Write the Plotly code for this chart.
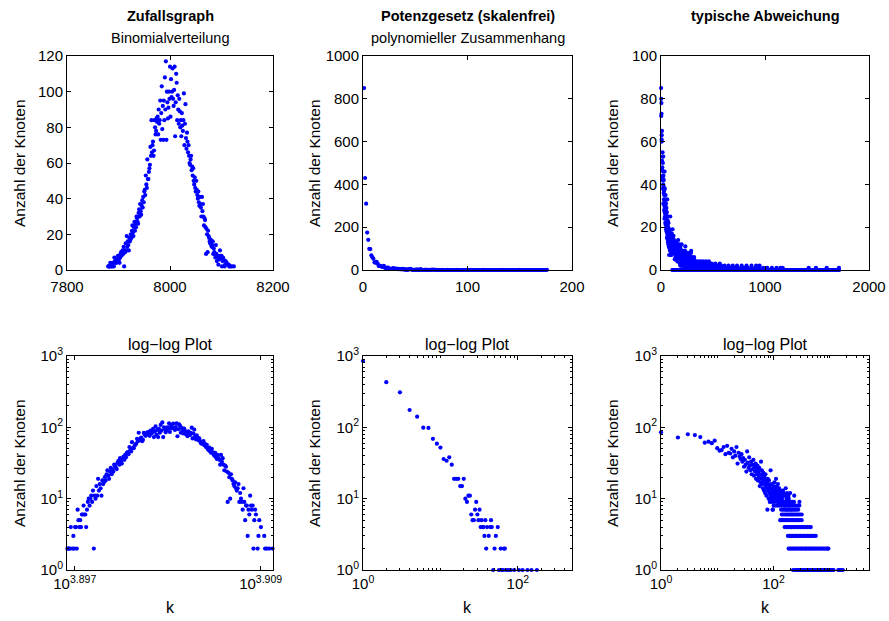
import plotly.graph_objects as go
import math

# ---------------- data ----------------
# Dataset 1: random graph (binomial degree distribution)
k1 = [7880, 7881, 7882, 7883, 7884, 7886, 7887, 7888, 7889, 7890,
      7891, 7892, 7893, 7894, 7895, 7896, 7897, 7898, 7899, 7900,
      7901, 7902, 7903, 7904, 7905, 7906, 7907, 7908, 7909, 7910,
      7911, 7912, 7913, 7914, 7915, 7916, 7917, 7918, 7919, 7920,
      7921, 7922, 7923, 7924, 7925, 7926, 7927, 7928, 7929, 7930,
      7931, 7932, 7933, 7934, 7935, 7936, 7937, 7938, 7939, 7940,
      7941, 7942, 7943, 7944, 7945, 7946, 7947, 7948, 7949, 7950,
      7951, 7952, 7953, 7954, 7955, 7956, 7957, 7958, 7959, 7960,
      7961, 7962, 7963, 7964, 7965, 7966, 7967, 7968, 7969, 7970,
      7971, 7972, 7973, 7974, 7975, 7976, 7977, 7978, 7979, 7980,
      7981, 7982, 7983, 7984, 7985, 7986, 7987, 7988, 7989, 7990,
      7991, 7992, 7993, 7994, 7995, 7996, 7997, 7998, 7999, 8000,
      8001, 8002, 8003, 8004, 8005, 8006, 8007, 8008, 8009, 8010,
      8011, 8012, 8013, 8014, 8015, 8016, 8017, 8018, 8019, 8020,
      8021, 8022, 8023, 8024, 8025, 8026, 8027, 8028, 8029, 8030,
      8031, 8032, 8033, 8034, 8035, 8036, 8037, 8038, 8039, 8040,
      8041, 8042, 8043, 8044, 8045, 8046, 8047, 8048, 8049, 8050,
      8051, 8052, 8053, 8054, 8055, 8056, 8057, 8058, 8059, 8060,
      8061, 8062, 8063, 8064, 8065, 8066, 8067, 8068, 8069, 8070,
      8071, 8072, 8073, 8074, 8075, 8076, 8077, 8078, 8079, 8080,
      8081, 8082, 8083, 8084, 8085, 8086, 8087, 8088, 8089, 8090,
      8091, 8092, 8093, 8094, 8095, 8096, 8097, 8098, 8099, 8100,
      8101, 8102, 8103, 8104, 8106, 8107, 8108, 8110, 8114, 8115,
      8117, 8120, 8124]
n1 = [2, 2, 2, 2, 4, 2, 3, 2, 4, 4,
      2, 7, 5, 4, 5, 4, 6, 6, 8, 6,
      6, 4, 7, 9, 10, 8, 10, 11, 9, 13,
      2, 11, 10, 15, 11, 19, 13, 16, 14, 11,
      18, 16, 17, 20, 18, 22, 25, 21, 19, 24,
      27, 22, 26, 24, 30, 29, 27, 26, 32, 34,
      30, 37, 33, 31, 36, 39, 35, 41, 38, 44,
      45, 42, 53, 48, 46, 62, 51, 51, 55, 57,
      59, 69, 64, 84, 66, 70, 72, 64, 67, 84,
      80, 76, 78, 85, 83, 86, 76, 90, 82, 84,
      95, 73, 88, 103, 79, 92, 73, 95, 84, 108,
      90, 117, 73, 100, 94, 85, 91, 100, 96, 114,
      86, 107, 97, 100, 113, 96, 92, 101, 114, 75,
      94, 110, 105, 84, 98, 90, 82, 96, 89, 80,
      84, 75, 88, 81, 78, 84, 99, 70, 82, 93,
      74, 68, 77, 72, 66, 70, 64, 60, 59, 62,
      64, 56, 58, 53, 57, 50, 48, 52, 46, 44,
      50, 45, 42, 40, 44, 38, 36, 41, 37, 35,
      30, 41, 33, 37, 30, 25, 29, 28, 24, 9,
      23, 20, 10, 22, 19, 18, 16, 15, 17, 14,
      13, 14, 16, 9, 12, 10, 9, 7, 14, 9,
      5, 8, 8, 3, 7, 6, 11, 8, 7, 8,
      2, 5, 7, 6, 2, 3, 5, 4, 3, 2,
      2, 2, 2]

# Dataset 2: power law (scale-free)
k2 = [1, 2, 3, 4, 5, 6, 7, 8, 9, 10,
      11, 12, 13, 14, 15, 16, 17, 18, 19, 20,
      21, 22, 23, 24, 25, 26, 27, 28, 29, 30,
      31, 32, 33, 34, 35, 36, 37, 38, 39, 40,
      42, 44, 45, 46, 48, 50, 52, 55, 57, 60,
      62, 64, 66, 68, 70, 75, 81, 90, 103, 115,
      133, 150, 176]
n2 = [850, 430, 310, 175, 141, 99, 98, 69, 59, 52,
      36, 34, 38, 30, 19, 19, 19, 15, 15, 19,
      10, 9, 11, 11, 6, 5, 5, 7, 9, 6,
      5, 7, 4, 5, 4, 4, 3, 5, 2, 4,
      3, 4, 5, 4, 1, 2, 3, 4, 1, 2,
      1, 1, 2, 2, 1, 1, 1, 1, 1, 1,
      1, 1, 1]

# Dataset 3: typical deviation
k3_cloud = [1, 2, 3, 4, 5, 6, 7, 8, 9, 10,
            11, 12, 13, 14, 15, 16, 17, 18, 19, 20,
            21, 22, 23, 24, 25, 26, 27, 28, 29, 30,
            31, 32, 33, 34, 35, 36, 37, 38, 39, 40,
            41, 42, 43, 44, 45, 46, 47, 48, 49, 50,
            51, 52, 53, 54, 55, 56, 57, 58, 59, 60,
            61, 62, 63, 64, 65, 66, 67, 68, 69, 70,
            71, 72, 73, 74, 75, 76, 77, 78, 79, 80,
            81, 82, 83, 84, 85, 86, 87, 88, 89, 90,
            91, 92, 93, 94, 95, 96, 97, 98, 99, 100,
            102, 103, 104, 105, 106, 107, 108, 109,
            111, 113, 114, 115, 116, 117, 118, 119, 120,
            124, 125, 126, 127, 128, 130,
            136, 138, 139, 142, 147, 148, 152, 154, 160, 165,
            171, 174, 185, 187, 195, 198, 234, 290]
n3_cloud = [85, 72, 80, 78, 73, 61, 63, 60, 65, 51,
            47, 48, 53, 42, 55, 44, 43, 50, 38, 46,
            40, 53, 31, 44, 39, 36, 42, 33, 37, 28,
            35, 30, 24, 46, 32, 27, 38, 29, 25, 33,
            22, 30, 26, 35, 21, 28, 24, 31, 19, 26,
            22, 29, 18, 24, 20, 27, 15, 22, 17, 33,
            19, 25, 16, 21, 14, 23, 18, 13, 20, 16,
            12, 22, 15, 18, 11, 17, 14, 7, 19, 13,
            16, 10, 18, 12, 15, 9, 14, 11, 25, 13,
            10, 16, 12, 9, 14, 11, 7, 13, 10, 15,
            12, 9, 17, 11, 14, 10, 13, 8,
            19, 12, 10, 15, 9, 13, 11, 8, 16,
            11, 9, 14, 12, 10, 13,
            11, 12, 9, 10, 13, 11, 12, 9, 11, 14,
            10, 12, 11, 10, 9, 12, 11, 9]
k3_n9 = [123, 137, 146, 158, 168, 181, 193, 207, 220, 232]
k3_n8 = [101, 129, 141, 153, 161, 173, 186, 197, 213, 229, 248, 268, 288]
k3_n7 = [97, 137, 149, 159, 169, 178, 189, 201, 211, 224, 239, 253, 275]
k3_n6 = [141, 151, 162, 172, 184, 196, 208, 218, 231, 246, 261, 277, 296, 318]
k3_n5 = [132, 140, 150, 160, 170, 182, 191, 203, 215, 228, 242, 257, 273, 291, 317]
k3_n4 = [158, 168, 179, 189, 200, 212, 224, 238, 252, 267, 283, 299, 318, 337,
         357, 380, 404, 432, 461]
k3_n3 = [181, 192, 204, 216, 229, 243, 256, 271, 286, 303, 321, 339, 360, 383,
         406, 431, 458, 487, 522, 565]
k3_n2 = [186, 197, 209, 221, 233, 247, 262, 279, 296, 313, 330, 352, 371, 392,
         415, 438, 463, 489, 517, 545, 578, 612, 650, 690, 731, 776, 822, 870,
         915, 948]
k3_n1 = [223, 241, 258, 272, 287, 301, 316, 334, 349, 366, 381, 398, 417, 433,
         452, 470, 491, 512, 534, 557, 579, 604, 628, 655, 683, 709, 738, 770,
         801, 836, 869, 905, 943, 982, 1021, 1066, 1110, 1148, 1170, 1420, 1490,
         1593, 1711]

# ---------------- build tables ----------------
def merge_bands():
    ks, ns = list(k3_cloud), list(n3_cloud)
    for val, lst in [(9, k3_n9), (8, k3_n8), (7, k3_n7), (6, k3_n6), (5, k3_n5),
                     (4, k3_n4), (3, k3_n3), (2, k3_n2), (1, k3_n1)]:
        ks += lst
        ns += [val] * len(lst)
    return ks, ns

k3, n3 = merge_bands()


def with_zeros(ks, ns):
    """Histogram over every degree 1..max (degrees nobody has count 0)."""
    present = set(ks)
    zk = [k for k in range(1, max(ks) + 1) if k not in present]
    return list(ks) + zk, list(ns) + [0] * len(zk)


k2_lin, n2_lin = with_zeros(k2, n2)
k3_lin, n3_lin = with_zeros(k3, n3)

BLUE = "#0000FF"
FONT = "Liberation Sans, Arial, Helvetica, sans-serif"
W, H = 889, 621
TICK = 15

fig = go.Figure()


def add(x, y, i):
    fig.add_trace(go.Scatter(x=x, y=y, mode="markers", cliponaxis=False,
                             marker=dict(color=BLUE, size=4.2, line=dict(width=0)),
                             xaxis="x" if i == 1 else f"x{i}",
                             yaxis="y" if i == 1 else f"y{i}",
                             showlegend=False, hoverinfo="skip"))


add(k1, n1, 1)
add(k2_lin, n2_lin, 2)
add(k3_lin, n3_lin, 3)
add(k1, n1, 4)
add(k2, n2, 5)
add(k3, n3, 6)

cols = [(67, 273), (363, 572), (661, 869)]
rows = [(56, 270), (356, 570)]


def xdom(c):
    return [cols[c][0] / W, cols[c][1] / W]


def ydom(r):
    return [1 - rows[r][1] / H, 1 - rows[r][0] / H]


base = dict(showgrid=False, zeroline=False, showline=True, linecolor="black",
            linewidth=1, mirror="ticks", ticks="inside", ticklen=4,
            tickcolor="black", tickwidth=1, automargin=False,
            tickfont=dict(family=FONT, size=TICK, color="black"))
xtop = dict(base, ticklabelstandoff=3)

sup = lambda e: f"10<sup>{e}</sup>"


def minor_log(extra):
    return dict(ticks="inside", ticklen=2, tickcolor="black", tickmode="array",
                tickvals=[m * 10 ** d for d in range(0, 4) for m in range(2, 10)] + extra)


layout = dict(width=W, height=H, margin=dict(l=0, r=0, t=0, b=0, pad=0),
              autosize=False,
              paper_bgcolor="white", plot_bgcolor="white",
              font=dict(family=FONT, size=TICK, color="black"))

# top row
layout["xaxis"] = dict(xtop, domain=xdom(0), anchor="y", range=[7800, 8200],
                       tickvals=[7800, 8000, 8200])
layout["yaxis"] = dict(base, domain=ydom(0), anchor="x", range=[0, 120], dtick=20)
layout["xaxis2"] = dict(xtop, domain=xdom(1), anchor="y2", range=[0, 200],
                        tickvals=[0, 100, 200])
layout["yaxis2"] = dict(base, domain=ydom(0), anchor="x2", range=[0, 1000], dtick=200)
layout["xaxis3"] = dict(xtop, domain=xdom(2), anchor="y3", range=[0, 2000],
                        tickvals=[0, 1000, 2000])
layout["yaxis3"] = dict(base, domain=ydom(0), anchor="x3", range=[0, 100], dtick=20)

# bottom row (log-log)
ylog = dict(base, type="log", range=[0, 3], tickvals=[1, 10, 100, 1000],
            ticktext=[sup(0), sup(1), sup(2), sup(3)], minor=minor_log([]))
layout["xaxis4"] = dict(base, domain=xdom(0), anchor="y4", type="log",
                        range=[3.8965, 3.9098],
                        tickvals=[10 ** 3.897, 10 ** 3.909],
                        ticktext=[sup("3.897"), sup("3.909")])
layout["yaxis4"] = dict(ylog, domain=ydom(1), anchor="x4")
layout["xaxis5"] = dict(base, domain=xdom(1), anchor="y5", type="log",
                        range=[0, math.log10(500)], tickvals=[1, 100],
                        ticktext=[sup(0), sup(2)], minor=minor_log([10]))
layout["yaxis5"] = dict(ylog, domain=ydom(1), anchor="x5")
layout["xaxis6"] = dict(base, domain=xdom(2), anchor="y6", type="log",
                        range=[0, math.log10(5000)], tickvals=[1, 100],
                        ticktext=[sup(0), sup(2)], minor=minor_log([10, 1000]))
layout["yaxis6"] = dict(ylog, domain=ydom(1), anchor="x6")

fig.update_layout(**layout)

ann = []


def text(x, y, s, bold=False, angle=0, size=14):
    ann.append(dict(x=x / W, y=1 - y / H, xref="paper", yref="paper",
                    text=f"<b>{s}</b>" if bold else s, showarrow=False,
                    textangle=angle, xanchor="center", yanchor="middle",
                    font=dict(family=FONT, size=size, color="black")))


titles = [("Zufallsgraph", "Binomialverteilung"),
          ("Potenzgesetz (skalenfrei)", "polynomieller Zusammenhang"),
          ("typische Abweichung", None)]
for c, (t1, t2) in enumerate(titles):
    cx = (cols[c][0] + cols[c][1]) / 2
    text(cx, 16, t1, bold=True, size=14.5)
    if t2:
        text(cx, 38, t2, size=14.5)
    text(cx, 344, "log\u2212log Plot", size=16)
    text(cx, 607, "k", size=16)

ylab_x = [19, 314, 612]
for c in range(3):
    for r in range(2):
        text(ylab_x[c], (rows[r][0] + rows[r][1]) / 2, "Anzahl der Knoten",
             angle=-90, size=15.5)

fig.update_layout(annotations=ann)
fig.write_html("out.html",
               config={"displayModeBar": False, "staticPlot": True},
               post_script="document.body.style.margin='0';"
                           "document.body.style.padding='0';")
